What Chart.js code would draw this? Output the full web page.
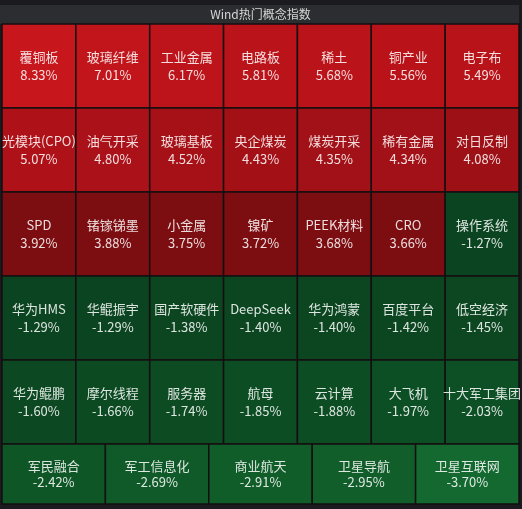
<!DOCTYPE html>
<html>
<head>
<meta charset="utf-8">
<script src="https://cdn.jsdelivr.net/npm/chart.js@4.4.1/dist/chart.umd.min.js"></script>
<style>
  body { margin: 0; background: #1b1b1f; }
  #wrap { width: 522px; height: 509px; }
</style>
</head>
<body>
<div id="wrap"><canvas id="heat"></canvas></div>
<script>
const names = [
  '覆铜板', '玻璃纤维', '工业金属', '电路板', '稀土', '铜产业', '电子布',
  '光模块(CPO)', '油气开采', '玻璃基板', '央企煤炭', '煤炭开采', '稀有金属', '对日反制',
  'SPD', '锗镓锑墨', '小金属', '镍矿', 'PEEK材料', 'CRO', '操作系统',
  '华为HMS', '华鲲振宇', '国产软硬件', 'DeepSeek', '华为鸿蒙', '百度平台', '低空经济',
  '华为鲲鹏', '摩尔线程', '服务器', '航母', '云计算', '大飞机', '十大军工集团',
  '军民融合', '军工信息化', '商业航天', '卫星导航', '卫星互联网'
];
const values = [
  8.33, 7.01, 6.17, 5.81, 5.68, 5.56, 5.49,
  5.07, 4.80, 4.52, 4.43, 4.35, 4.34, 4.08,
  3.92, 3.88, 3.75, 3.72, 3.68, 3.66, -1.27,
  -1.29, -1.29, -1.38, -1.40, -1.40, -1.42, -1.45,
  -1.60, -1.66, -1.74, -1.85, -1.88, -1.97, -2.03,
  -2.42, -2.69, -2.91, -2.95, -3.70
];

// grid layout: cells per row and row heights
const rowCounts = [7, 7, 7, 7, 7, 5];
const rowHeights = [84, 84, 84, 84, 84, 60];

let cells = [];
let k = 0, rowTop = 0;
for (let r = 0; r < rowCounts.length; r++) {
  for (let c = 0; c < rowCounts[r]; c++) {
    cells.push({
      x0: c / rowCounts[r], x1: (c + 1) / rowCounts[r],
      y0: rowTop, y1: rowTop + rowHeights[r],
      name: names[k], value: values[k]
    });
    k++;
  }
  rowTop += rowHeights[r];
}

function hex(h) {
  return [parseInt(h.slice(1, 3), 16), parseInt(h.slice(3, 5), 16), parseInt(h.slice(5, 7), 16)];
}
function mix(a, b, t) {
  t = Math.max(0, Math.min(1, t));
  const A = hex(a), B = hex(b);
  return 'rgb(' + A.map((v, i) => Math.round(v + (B[i] - v) * t)).join(',') + ')';
}
function cellColor(v) {
  if (v >= 5.4) return mix('#b81319', '#c8161d', (v - 5.4) / 2.9);
  if (v >= 4.0) return mix('#9c1016', '#b21219', (v - 4.0) / 1.3);
  if (v > 0) return '#7c0e12';
  return mix('#0b4420', '#13692f', (-v - 1.27) / 2.43);
}

const font = "'Noto Sans CJK SC', 'Noto Sans', sans-serif";

const cellPlugin = {
  id: 'cells',
  beforeDraw(chart) {
    const ctx = chart.ctx;
    const tb = chart.titleBlock;
    ctx.save();
    ctx.fillStyle = '#2c2d31';
    ctx.fillRect(0, tb.top, chart.chartArea.right, tb.bottom - tb.top);
    ctx.restore();
  },
  afterDatasetsDraw(chart) {
    const ctx = chart.ctx;
    const xs = chart.scales.x, ys = chart.scales.y;
    ctx.save();
    cells.forEach(cell => {
      const l = xs.getPixelForValue(cell.x0), r = xs.getPixelForValue(cell.x1);
      const t = ys.getPixelForValue(cell.y0), b = ys.getPixelForValue(cell.y1);
      ctx.fillStyle = cellColor(cell.value);
      ctx.fillRect(l, t, r - l, b - t);
      ctx.strokeStyle = '#140f10';
      ctx.lineWidth = 1.5;
      ctx.strokeRect(l, t, r - l, b - t);
      const cx = (l + r) / 2, cy = (t + b) / 2;
      const off = (b - t) > 70 ? 9 : 8;
      ctx.fillStyle = 'rgba(255,255,255,0.86)';
      ctx.font = '13px ' + font;
      ctx.textAlign = 'center';
      ctx.textBaseline = 'middle';
      ctx.fillText(cell.name, cx, cy - off);
      ctx.fillText(cell.value.toFixed(2) + '%', cx, cy + off);
    });
    ctx.restore();
  }
};

const ctx = document.getElementById('heat').getContext('2d');
const heat = new Chart(ctx, {
  type: 'scatter',
  data: {
    datasets: [{
      label: 'Wind热门概念指数',
      data: cells.map(c => ({ x: (c.x0 + c.x1) / 2, y: (c.y0 + c.y1) / 2 })),
      pointRadius: 0
    }]
  },
  options: {
    responsive: true,
    maintainAspectRatio: false,
    animation: false,
    layout: { padding: { top: 5, left: 2, right: 3, bottom: 5 } },
    plugins: {
      legend: { display: false },
      tooltip: { enabled: false },
      title: {
        display: true,
        text: 'Wind热门概念指数',
        color: '#d6d6d6',
        font: { size: 12, family: font, weight: 'normal' },
        padding: { top: 2.3, bottom: 2.3 }
      }
    },
    scales: {
      x: { type: 'linear', min: 0, max: 1, display: false },
      y: { type: 'linear', min: 0, max: 480, reverse: true, display: false }
    }
  },
  plugins: [cellPlugin]
});
</script>
</body>
</html>
